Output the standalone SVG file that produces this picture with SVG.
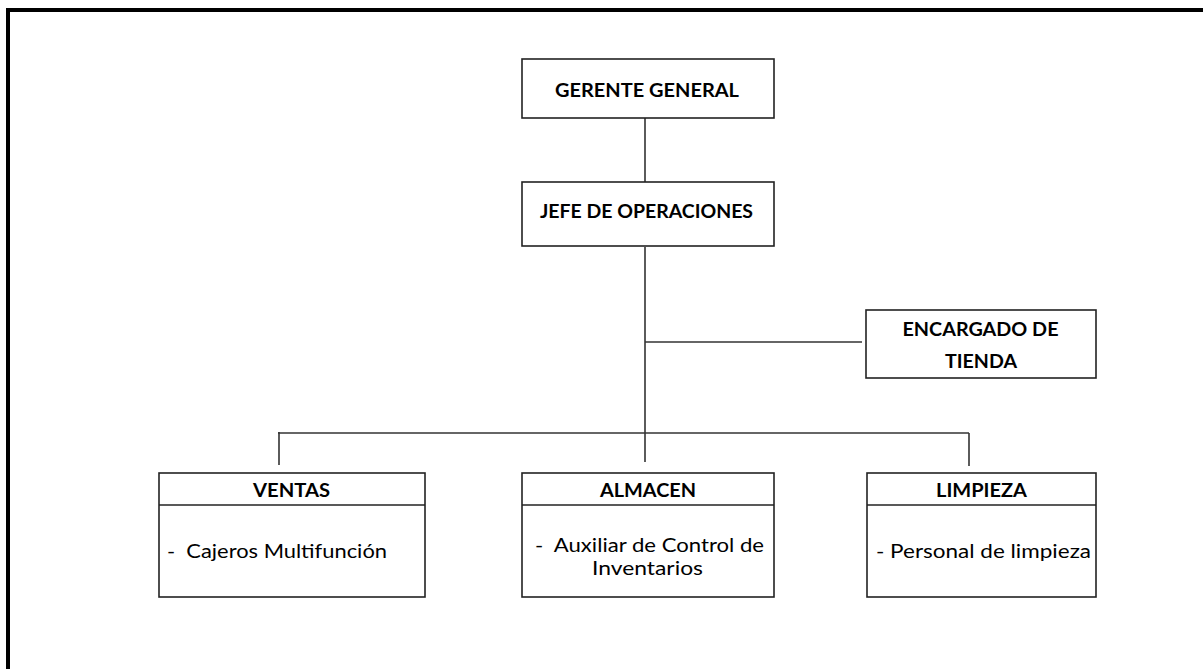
<svg xmlns="http://www.w3.org/2000/svg" width="1203" height="669" viewBox="0 0 1203 669">
<style>
.box{fill:#fff;stroke:#222;stroke-width:1.6}
.hd{font-family:Lato,"Open Sans","Liberation Sans",sans-serif;font-weight:bold;font-size:18px;fill:#000;text-anchor:middle}
.tx{font-family:Lato,"Open Sans","Liberation Sans",sans-serif;font-size:19.5px;fill:#000}
.ln{stroke:#333;stroke-width:1.6;fill:none}
</style>
<rect x="0" y="0" width="1203" height="669" fill="#fff"/>
<rect x="8" y="10" width="1220" height="700" fill="none" stroke="#000" stroke-width="4"/>
<g id="connectors">
<line class="ln" x1="645" y1="118" x2="645" y2="182"/>
<line class="ln" x1="645" y1="247" x2="645" y2="462"/>
<line class="ln" x1="645" y1="342" x2="862" y2="342"/>
<line class="ln" x1="278" y1="433" x2="969" y2="433"/>
<line class="ln" x1="279" y1="432" x2="279" y2="465"/>
<line class="ln" x1="969" y1="433" x2="969" y2="466"/>
</g>
<g id="gerente">
<rect class="box" x="522" y="59" width="252" height="59"/>
<text class="hd" x="647" y="97" textLength="184" lengthAdjust="spacingAndGlyphs">GERENTE GENERAL</text>
</g>
<g id="jefe">
<rect class="box" x="522" y="182" width="252" height="64"/>
<text class="hd" x="646.5" y="218" textLength="213" lengthAdjust="spacingAndGlyphs">JEFE DE OPERACIONES</text>
</g>
<g id="encargado">
<rect class="box" x="866" y="310" width="230" height="68"/>
<text class="hd" x="980.5" y="336" textLength="156" lengthAdjust="spacingAndGlyphs">ENCARGADO DE</text>
<text class="hd" x="981" y="368" textLength="72" lengthAdjust="spacingAndGlyphs">TIENDA</text>
</g>
<g id="ventas">
<rect class="box" x="159" y="473" width="266" height="124"/>
<line class="box" x1="159" y1="505" x2="425" y2="505"/>
<text class="hd" x="291.5" y="497" textLength="77" lengthAdjust="spacingAndGlyphs">VENTAS</text>
<text class="tx" x="167" y="558" textLength="220" lengthAdjust="spacingAndGlyphs" xml:space="preserve">-  Cajeros Multifunción</text>
</g>
<g id="almacen">
<rect class="box" x="522" y="473" width="252" height="124"/>
<line class="box" x1="522" y1="505" x2="774" y2="505"/>
<text class="hd" x="648" y="497" textLength="96" lengthAdjust="spacingAndGlyphs">ALMACEN</text>
<text class="tx" x="535" y="552" textLength="229" lengthAdjust="spacingAndGlyphs" xml:space="preserve">-  Auxiliar de Control de</text>
<text class="tx" x="592" y="575" textLength="111" lengthAdjust="spacingAndGlyphs">Inventarios</text>
</g>
<g id="limpieza">
<rect class="box" x="867" y="473" width="229" height="124"/>
<line class="box" x1="867" y1="505" x2="1096" y2="505"/>
<text class="hd" x="981.5" y="497" textLength="91" lengthAdjust="spacingAndGlyphs">LIMPIEZA</text>
<text class="tx" x="876" y="558" textLength="215" lengthAdjust="spacingAndGlyphs">- Personal de limpieza</text>
</g>
</svg>
